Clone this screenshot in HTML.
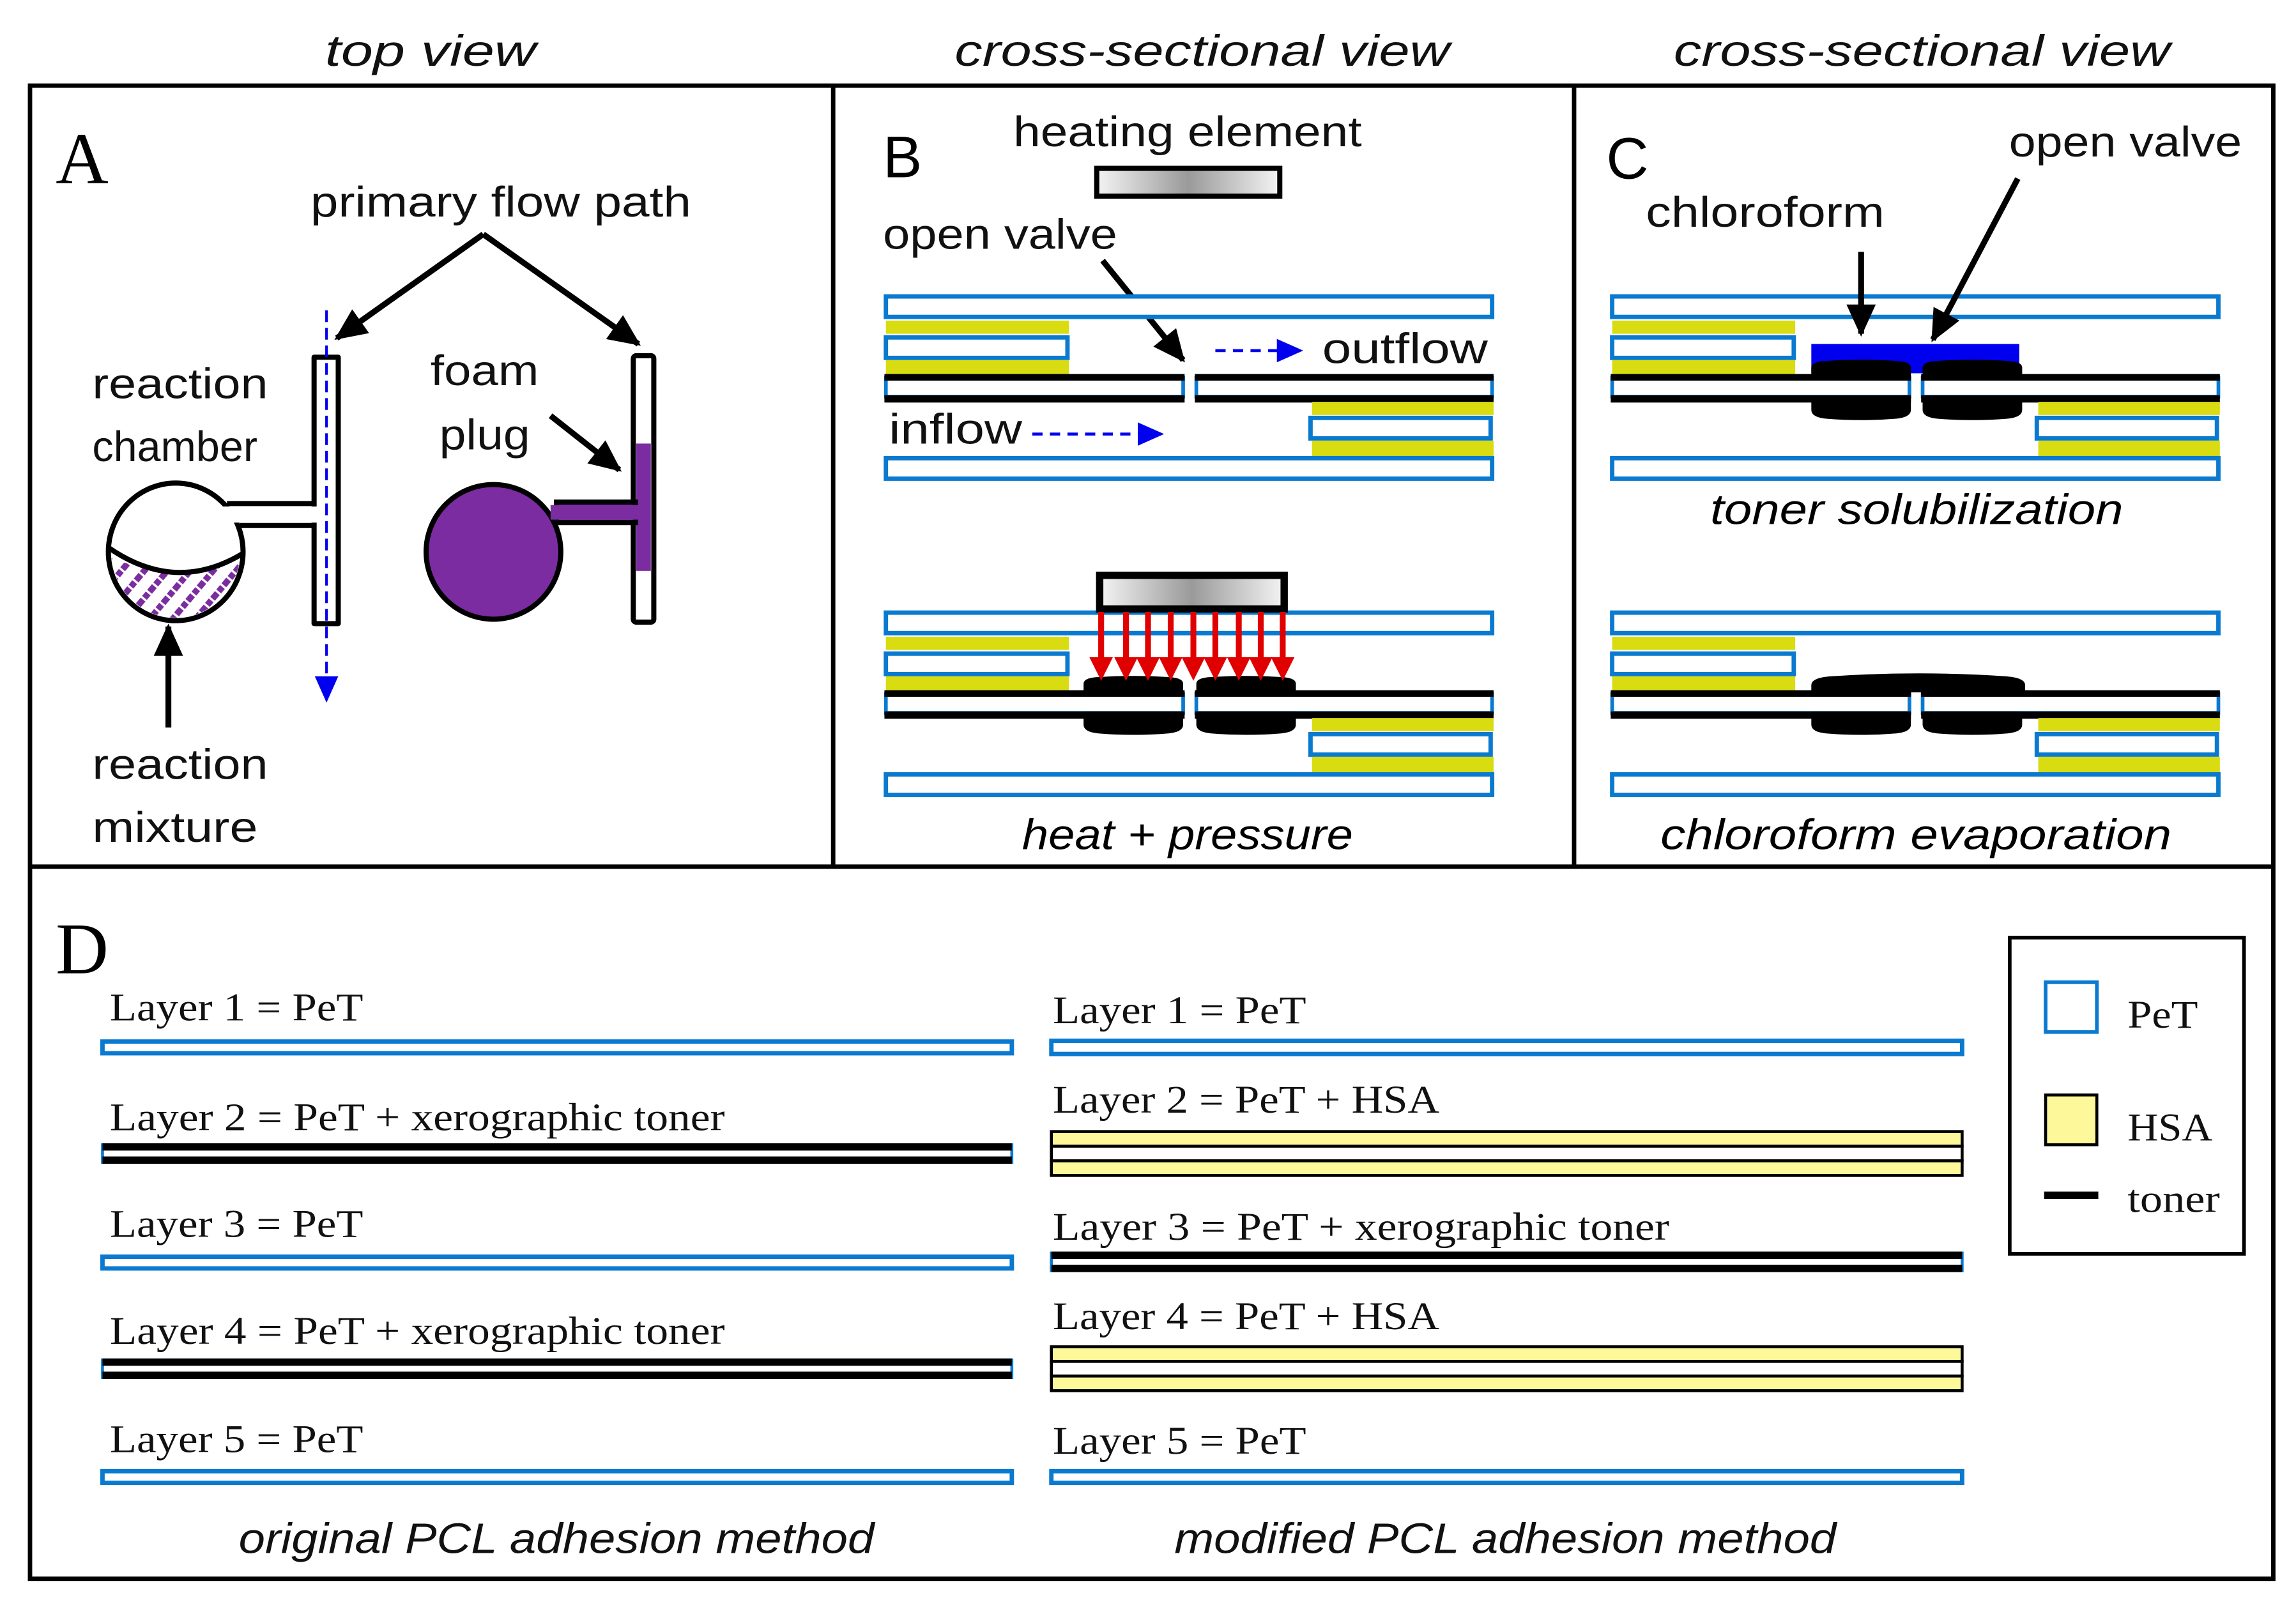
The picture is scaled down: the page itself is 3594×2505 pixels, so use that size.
<!DOCTYPE html>
<html><head><meta charset="utf-8"><style>html,body{margin:0;padding:0;background:#fff}svg{display:block}</style></head>
<body>
<svg xmlns="http://www.w3.org/2000/svg" width="3594" height="2505" viewBox="0 0 1568 1093" preserveAspectRatio="none">
<defs>
<marker id="ab" markerUnits="userSpaceOnUse" markerWidth="24" markerHeight="24" refX="20" refY="10" orient="auto"><path d="M0,0 L22,10 L0,20 Z" fill="#000"/></marker>
<marker id="bl" markerUnits="userSpaceOnUse" markerWidth="20" markerHeight="20" refX="16" refY="8" orient="auto"><path d="M0,0 L18,8 L0,16 Z" fill="#0000ee"/></marker>
<linearGradient id="hg" x1="0" x2="1" y1="0" y2="0"><stop offset="0" stop-color="#f4f4f4"/><stop offset="0.5" stop-color="#9a9a9a"/><stop offset="1" stop-color="#f4f4f4"/></linearGradient>
<pattern id="hatch" patternUnits="userSpaceOnUse" width="12" height="12" patternTransform="rotate(40)"><line x1="2" y1="0" x2="2" y2="12" stroke="#7b2ca0" stroke-width="4.5" stroke-dasharray="4,1.5"/></pattern>
<clipPath id="lowc"><path d="M60,374 Q120,405 175,376 L175,440 L60,440 Z"/></clipPath>
<path id="btop" d="M0,13 L0,5 Q0,1 10,0.5 Q34,-1 58,0.5 Q68,1 68,5 L68,13 Z"/>
<path id="bbot" d="M0,0 L68,0 L68,9 Q68,14 58,15 Q34,17 10,15 Q0,14 0,9 Z"/>
<g id="stack">
 <rect x="605" y="202.5" width="414" height="14" fill="#fff" stroke="#0a7ad0" stroke-width="3"/>
 <rect x="605" y="219" width="125" height="9" fill="#d8dc10"/>
 <rect x="605" y="230.5" width="124" height="14" fill="#fff" stroke="#0a7ad0" stroke-width="3"/>
 <rect x="605" y="246" width="125" height="11" fill="#d8dc10"/>
 <rect x="605" y="258" width="203" height="13" fill="#fff" stroke="#0a7ad0" stroke-width="2.5"/>
 <rect x="817" y="258" width="202" height="13" fill="#fff" stroke="#0a7ad0" stroke-width="2.5"/>
 <rect x="604" y="255.5" width="205" height="4.5" fill="#000"/>
 <rect x="816" y="255.5" width="204" height="4.5" fill="#000"/>
 <rect x="604" y="270" width="205" height="5" fill="#000"/>
 <rect x="816" y="270" width="204" height="5" fill="#000"/>
 <rect x="896" y="274.5" width="124" height="9" fill="#d8dc10"/>
 <rect x="895" y="285.5" width="123" height="14" fill="#fff" stroke="#0a7ad0" stroke-width="3"/>
 <rect x="896" y="301" width="124" height="12" fill="#d8dc10"/>
 <rect x="605" y="313" width="414" height="14" fill="#fff" stroke="#0a7ad0" stroke-width="3"/>
</g>
</defs>
<rect width="1568" height="1093" fill="#fff"/>

<g font-family="Liberation Sans, sans-serif" font-style="italic" font-size="30" fill="#111">
<text x="222" y="45" textLength="144" lengthAdjust="spacingAndGlyphs">top view</text>
<text x="652" y="45" textLength="338" lengthAdjust="spacingAndGlyphs">cross-sectional view</text>
<text x="1143" y="45" textLength="339" lengthAdjust="spacingAndGlyphs">cross-sectional view</text>
</g>

<g fill="none" stroke="#000" stroke-width="3">
<rect x="20.5" y="58.5" width="1532" height="1020"/>
<line x1="20" y1="592" x2="1553" y2="592"/>
<line x1="569" y1="58" x2="569" y2="592"/>
<line x1="1075" y1="58" x2="1075" y2="592"/>
</g>

<!-- Panel A -->
<text x="38" y="125" font-family="Liberation Serif, serif" font-size="50">A</text>
<g font-family="Liberation Sans, sans-serif" font-size="29" fill="#111">
<text x="212" y="148" textLength="260" lengthAdjust="spacingAndGlyphs">primary flow path</text>
<text x="63" y="272" textLength="120" lengthAdjust="spacingAndGlyphs">reaction</text>
<text x="63" y="315">chamber</text>
<text x="294" y="263" textLength="74" lengthAdjust="spacingAndGlyphs">foam</text>
<text x="300" y="307" textLength="62" lengthAdjust="spacingAndGlyphs">plug</text>
<text x="63" y="532" textLength="120" lengthAdjust="spacingAndGlyphs">reaction</text>
<text x="63" y="575" textLength="113" lengthAdjust="spacingAndGlyphs">mixture</text>
</g>
<g stroke="#000" stroke-width="4" fill="none">
<line x1="330" y1="160" x2="230" y2="231" marker-end="url(#ab)"/>
<line x1="330" y1="160" x2="436" y2="235" marker-end="url(#ab)"/>
<line x1="376" y1="284" x2="423" y2="321" marker-end="url(#ab)"/>
<line x1="115" y1="497" x2="115" y2="428" marker-end="url(#ab)"/>
</g>
<ellipse cx="120" cy="377" rx="46" ry="47" fill="#fff" stroke="#000" stroke-width="3.5"/>
<rect x="150" y="346" width="66" height="11" fill="#fff"/>
<line x1="155" y1="344" x2="214" y2="344" stroke="#000" stroke-width="3.5"/>
<line x1="164" y1="359" x2="214" y2="359" stroke="#000" stroke-width="3.5"/>
<ellipse cx="120" cy="377" rx="44" ry="45" fill="url(#hatch)" clip-path="url(#lowc)"/>
<path d="M74,374 Q120,406 166,378" fill="none" stroke="#000" stroke-width="3.5"/>
<path d="M214.5,244 L231,244 L231,426 L214.5,426 Z" fill="#fff" stroke="#000" stroke-width="3.5" stroke-linejoin="round"/>
<rect x="212" y="346" width="5" height="11" fill="#fff"/>
<line x1="223" y1="212" x2="223" y2="466" stroke="#0000ee" stroke-width="1.8" stroke-dasharray="8,4"/>
<path d="M215,462 L231,462 L223,480 Z" fill="#0000ee"/>
<rect x="432.5" y="243" width="14" height="182" rx="2" fill="#fff" stroke="#000" stroke-width="3.5"/>
<rect x="434.5" y="303" width="10" height="87" fill="#7b2ca0"/>
<rect x="380" y="343" width="54" height="14" fill="#7b2ca0" stroke="#000" stroke-width="3.5"/>
<ellipse cx="337" cy="377" rx="46" ry="46" fill="#7b2ca0" stroke="#000" stroke-width="3.5"/>
<rect x="376" y="345" width="60" height="10" fill="#7b2ca0"/>

<!-- Panel B -->
<text x="603" y="121" font-family="Liberation Sans, sans-serif" font-size="40">B</text>
<g font-family="Liberation Sans, sans-serif" font-size="29" fill="#111">
<text x="692" y="100" textLength="238" lengthAdjust="spacingAndGlyphs">heating element</text>
<text x="603" y="170" textLength="160" lengthAdjust="spacingAndGlyphs">open valve</text>
<text x="903" y="248" textLength="113" lengthAdjust="spacingAndGlyphs">outflow</text>
<text x="607" y="303" textLength="91" lengthAdjust="spacingAndGlyphs">inflow</text>
</g>
<rect x="749" y="115" width="125" height="19" fill="url(#hg)" stroke="#000" stroke-width="3.5"/>
<line x1="753" y1="178" x2="808" y2="246" stroke="#000" stroke-width="4" marker-end="url(#ab)"/>
<use href="#stack"/>
<line x1="830" y1="239.5" x2="888" y2="239.5" stroke="#0000ee" stroke-width="2" stroke-dasharray="7,5" marker-end="url(#bl)"/>
<line x1="705" y1="296.5" x2="793" y2="296.5" stroke="#0000ee" stroke-width="2" stroke-dasharray="7,5" marker-end="url(#bl)"/>
<use href="#stack" transform="translate(0,216)"/>
<use href="#btop" transform="translate(740,462)"/>
<use href="#btop" transform="translate(817,462)"/>
<use href="#bbot" transform="translate(740,486)"/>
<use href="#bbot" transform="translate(817,486)"/>
<rect x="751" y="393" width="126" height="23" fill="url(#hg)" stroke="#000" stroke-width="5"/>
<g fill="#e00000">
<rect x="750" y="418" width="4" height="34"/><path d="M744,449 L760,449 L752,465 Z"/>
<rect x="767" y="418" width="4" height="34"/><path d="M761,449 L777,449 L769,465 Z"/>
<rect x="782" y="418" width="4" height="34"/><path d="M776,449 L792,449 L784,465 Z"/>
<rect x="797.5" y="418" width="4" height="34"/><path d="M791.5,449 L807.5,449 L799.5,465 Z"/>
<rect x="813" y="418" width="4" height="34"/><path d="M807,449 L823,449 L815,465 Z"/>
<rect x="828" y="418" width="4" height="34"/><path d="M822,449 L838,449 L830,465 Z"/>
<rect x="844" y="418" width="4" height="34"/><path d="M838,449 L854,449 L846,465 Z"/>
<rect x="859" y="418" width="4" height="34"/><path d="M853,449 L869,449 L861,465 Z"/>
<rect x="874" y="418" width="4" height="34"/><path d="M868,449 L884,449 L876,465 Z"/>
</g>
<text x="698" y="580" font-family="Liberation Sans, sans-serif" font-style="italic" font-size="29" textLength="226" lengthAdjust="spacingAndGlyphs">heat + pressure</text>

<!-- Panel C -->
<text x="1097" y="122" font-family="Liberation Sans, sans-serif" font-size="40">C</text>
<g font-family="Liberation Sans, sans-serif" font-size="29" fill="#111">
<text x="1124" y="155" textLength="163" lengthAdjust="spacingAndGlyphs">chloroform</text>
<text x="1372" y="107" textLength="159" lengthAdjust="spacingAndGlyphs">open valve</text>
</g>
<use href="#stack" transform="translate(496,0)"/>
<rect x="1237" y="235" width="142" height="20" fill="#0000ee"/>
<use href="#btop" transform="translate(1237,246)"/>
<use href="#btop" transform="translate(1313,246)"/>
<use href="#bbot" transform="translate(1237,271)"/>
<use href="#bbot" transform="translate(1313,271)"/>
<line x1="1271" y1="172" x2="1271" y2="228" stroke="#000" stroke-width="4" marker-end="url(#ab)"/>
<line x1="1378" y1="122" x2="1320" y2="232" stroke="#000" stroke-width="4" marker-end="url(#ab)"/>
<text x="1168" y="358" font-family="Liberation Sans, sans-serif" font-style="italic" font-size="29" textLength="282" lengthAdjust="spacingAndGlyphs">toner solubilization</text>
<use href="#stack" transform="translate(496,216)"/>
<path d="M1237,473 L1237,468 Q1237,463 1250,462 Q1310,458 1370,462 Q1383,463 1383,468 L1383,473 Z" fill="#000"/>
<use href="#bbot" transform="translate(1237,486)"/>
<use href="#bbot" transform="translate(1313,486)"/>
<text x="1134" y="580" font-family="Liberation Sans, sans-serif" font-style="italic" font-size="29" textLength="349" lengthAdjust="spacingAndGlyphs">chloroform evaporation</text>

<!-- Panel D -->
<text x="38" y="665" font-family="Liberation Serif, serif" font-size="50">D</text>
<g font-family="Liberation Serif, serif" font-size="27" fill="#111">
<text x="75" y="697" textLength="173" lengthAdjust="spacingAndGlyphs">Layer 1 = PeT</text>
<text x="75" y="772" textLength="420" lengthAdjust="spacingAndGlyphs">Layer 2 = PeT + xerographic toner</text>
<text x="75" y="845" textLength="173" lengthAdjust="spacingAndGlyphs">Layer 3 = PeT</text>
<text x="75" y="918" textLength="420" lengthAdjust="spacingAndGlyphs">Layer 4 = PeT + xerographic toner</text>
<text x="75" y="992" textLength="173" lengthAdjust="spacingAndGlyphs">Layer 5 = PeT</text>
<text x="719" y="699" textLength="173" lengthAdjust="spacingAndGlyphs">Layer 1 = PeT</text>
<text x="719" y="760" textLength="264" lengthAdjust="spacingAndGlyphs">Layer 2 = PeT + HSA</text>
<text x="719" y="847" textLength="421" lengthAdjust="spacingAndGlyphs">Layer 3 = PeT + xerographic toner</text>
<text x="719" y="908" textLength="264" lengthAdjust="spacingAndGlyphs">Layer 4 = PeT + HSA</text>
<text x="719" y="993" textLength="173" lengthAdjust="spacingAndGlyphs">Layer 5 = PeT</text>
<text x="1453" y="702" textLength="48" lengthAdjust="spacingAndGlyphs">PeT</text>
<text x="1453" y="779" textLength="58" lengthAdjust="spacingAndGlyphs">HSA</text>
<text x="1453" y="828" textLength="63" lengthAdjust="spacingAndGlyphs">toner</text>
</g>
<g fill="#fff" stroke="#0a7ad0" stroke-width="3">
<rect x="70" y="711.5" width="621" height="8"/>
<rect x="70" y="858.5" width="621" height="8"/>
<rect x="70" y="1005" width="621" height="8"/>
<rect x="718" y="711" width="622" height="9"/>
<rect x="718" y="1005" width="622" height="8"/>
</g>
<g>
<rect x="70" y="782" width="621" height="12" fill="#fff" stroke="#0a7ad0" stroke-width="2"/>
<rect x="70" y="781" width="621" height="5" fill="#000"/><rect x="70" y="790" width="621" height="5" fill="#000"/>
<rect x="70" y="929" width="621" height="12" fill="#fff" stroke="#0a7ad0" stroke-width="2"/>
<rect x="70" y="928" width="621" height="5" fill="#000"/><rect x="70" y="937" width="621" height="5" fill="#000"/>
<rect x="718" y="856" width="622" height="12" fill="#fff" stroke="#0a7ad0" stroke-width="2"/>
<rect x="718" y="855" width="622" height="5" fill="#000"/><rect x="718" y="864" width="622" height="5" fill="#000"/>
</g>
<g stroke="#000" stroke-width="2">
<rect x="718" y="773" width="622" height="10" fill="#fdf89a"/>
<rect x="718" y="783" width="622" height="10" fill="#fff"/>
<rect x="718" y="793" width="622" height="10" fill="#fdf89a"/>
<rect x="718" y="920" width="622" height="10" fill="#fdf89a"/>
<rect x="718" y="930" width="622" height="10" fill="#fff"/>
<rect x="718" y="940" width="622" height="10" fill="#fdf89a"/>
</g>
<g font-family="Liberation Sans, sans-serif" font-style="italic" font-size="29" fill="#111">
<text x="163" y="1061" textLength="434" lengthAdjust="spacingAndGlyphs">original PCL adhesion method</text>
<text x="802" y="1061" textLength="452" lengthAdjust="spacingAndGlyphs">modified PCL adhesion method</text>
</g>
<rect x="1372.5" y="640.5" width="160" height="216" fill="none" stroke="#000" stroke-width="2.5"/>
<rect x="1397" y="671" width="35" height="34" fill="#fff" stroke="#0a7ad0" stroke-width="2.5"/>
<rect x="1397" y="748" width="35" height="34" fill="#fdf89a" stroke="#000" stroke-width="2"/>
<rect x="1396" y="814" width="37" height="5" fill="#000"/>
</svg>
</body></html>
